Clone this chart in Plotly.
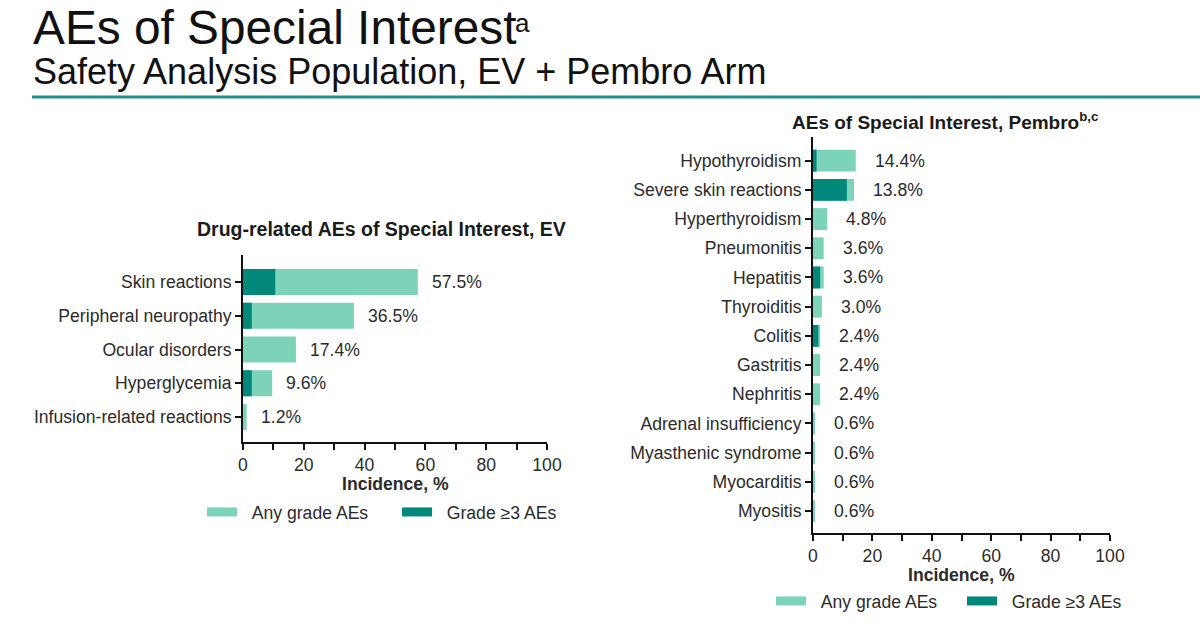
import plotly.graph_objects as go

W, H = 1200, 631

# ---------------- data ----------------
ev_categories = ["Skin reactions", "Peripheral neuropathy", "Ocular disorders",
                 "Hyperglycemia", "Infusion-related reactions"]
ev_any_grade = [57.5, 36.5, 17.4, 9.6, 1.2]
ev_grade3 = [10.6, 2.9, 0.0, 2.9, 0.0]

pem_categories = ["Hypothyroidism", "Severe skin reactions", "Hyperthyroidism",
                  "Pneumonitis", "Hepatitis", "Thyroiditis", "Colitis", "Gastritis",
                  "Nephritis", "Adrenal insufficiency", "Myasthenic syndrome",
                  "Myocarditis", "Myositis"]
pem_any_grade = [14.4, 13.8, 4.8, 3.6, 3.6, 3.0, 2.4, 2.4, 2.4, 0.6, 0.6, 0.6, 0.6]
pem_grade3 = [1.2, 11.4, 0.0, 0.0, 2.4, 0.0, 1.8, 0.0, 0.0, 0.0, 0.0, 0.0, 0.0]

x_tick_values = [0, 20, 40, 60, 80, 100]
series_names = ["Any grade AEs", "Grade \u22653 AEs"]
x_title = "Incidence, %"

# ---------------- style ----------------
LIGHT = "#7dd3b9"
DARK = "#00897b"
TEXT = "#2b2b2b"
AXIS = "#111111"
FONT = "Liberation Sans, Arial, sans-serif"
FS = 17.6


def fx(px):
    return px / W


def fy(py):
    return 1 - py / H


fig = go.Figure()

panels = [
    dict(cats=ev_categories, anyg=ev_any_grade, g3=ev_grade3, xa="x", ya="y",
         legend="legend", width=0.77, gap=12, xtitle_y=484),
    dict(cats=pem_categories, anyg=pem_any_grade, g3=pem_grade3, xa="x2", ya="y2",
         legend="legend2", width=0.75, gap=17, xtitle_y=575),
]

for p in panels:
    fig.add_trace(go.Bar(orientation="h", y=p["cats"], x=p["anyg"], name=series_names[0],
                         marker=dict(color=LIGHT, line=dict(width=0)), width=p["width"],
                         xaxis=p["xa"], yaxis=p["ya"], showlegend=False,
                         legendgroup=p["legend"] + "a"))
    fig.add_trace(go.Bar(orientation="h", y=p["cats"], x=p["g3"], name=series_names[1],
                         marker=dict(color=DARK, line=dict(width=0)), width=p["width"],
                         xaxis=p["xa"], yaxis=p["ya"], showlegend=False,
                         legendgroup=p["legend"] + "b"))
    # legend entries drawn as wide swatches
    for name, col, grp in [(series_names[0], LIGHT, "a"), (series_names[1], DARK, "b")]:
        fig.add_trace(go.Scatter(x=[None], y=[None], mode="lines",
                                 name="\u00a0\u00a0" + name,
                                 line=dict(color=col, width=9),
                                 xaxis=p["xa"], yaxis=p["ya"], legend=p["legend"],
                                 legendgroup=p["legend"] + grp))
    for c, v in zip(p["cats"], p["anyg"]):
        fig.add_annotation(x=v, y=c, xref=p["xa"], yref=p["ya"], text=f"{v:.1f}%",
                           showarrow=False, xanchor="left", xshift=p["gap"],
                           font=dict(size=FS, color=TEXT, family=FONT))
    # x-axis title
    fig.add_annotation(x=0.5, xref=p["xa"] + " domain", y=fy(p["xtitle_y"]), yref="paper",
                       xanchor="center", yanchor="middle", showarrow=False,
                       text=f"<b>{x_title}</b>",
                       font=dict(size=FS, color=TEXT, family=FONT))

axis_common = dict(showline=True, linecolor=AXIS, linewidth=2, showgrid=False,
                   zeroline=False, ticks="outside", ticklen=6, tickwidth=2,
                   tickcolor=AXIS, tickfont=dict(size=FS, color=TEXT, family=FONT))

fig.update_layout(
    width=W, height=H, margin=dict(l=0, r=0, t=0, b=0, autoexpand=False),
    paper_bgcolor="white", plot_bgcolor="white", barmode="overlay",
    font=dict(family=FONT, color=TEXT),
    xaxis=dict(domain=[fx(243), fx(547)], anchor="y", range=[0, 100],
               tickvals=x_tick_values,
               minor=dict(dtick=10, ticks="outside", ticklen=6, tickwidth=2, tickcolor=AXIS),
               **axis_common),
    yaxis=dict(domain=[fy(442), fy(255)], anchor="x", type="category",
               categoryarray=ev_categories, range=[4.74, -0.8], **axis_common),
    xaxis2=dict(domain=[fx(813), fx(1110)], anchor="y2", range=[0, 100],
                tickvals=x_tick_values,
                minor=dict(dtick=10, ticks="outside", ticklen=6, tickwidth=2, tickcolor=AXIS),
                **axis_common),
    yaxis2=dict(domain=[fy(533), fy(137)], anchor="x2", type="category",
                categoryarray=pem_categories, range=[12.75, -0.81], **axis_common),
    legend=dict(orientation="h", x=fx(202), y=fy(512), xanchor="left", yanchor="middle",
                font=dict(size=FS, color=TEXT, family=FONT), entrywidth=150,
                bgcolor="rgba(0,0,0,0)"),
    legend2=dict(orientation="h", x=fx(771), y=fy(601), xanchor="left", yanchor="middle",
                 font=dict(size=FS, color=TEXT, family=FONT), entrywidth=146,
                 bgcolor="rgba(0,0,0,0)"),
)

# titles
fig.add_annotation(x=fx(30.5), y=fy(28), xref="paper", yref="paper", xanchor="left",
                   yanchor="middle", showarrow=False,
                   text="AEs of Special Interest",
                   font=dict(size=47.8, color="#111111", family=FONT))
fig.add_annotation(x=fx(513), y=fy(23), xref="paper", yref="paper", xanchor="left",
                   yanchor="middle", showarrow=False, text="a",
                   font=dict(size=26, color="#111111", family=FONT))
fig.add_annotation(x=fx(30.5), y=fy(72), xref="paper", yref="paper", xanchor="left",
                   yanchor="middle", showarrow=False,
                   text="Safety Analysis Population, EV + Pembro Arm",
                   font=dict(size=36, color="#111111", family=FONT))
fig.add_shape(type="line", xref="paper", yref="paper", x0=fx(32), x1=1,
              y0=fy(97), y1=fy(97), line=dict(color="#23908c", width=3))

fig.add_annotation(x=fx(381), y=fy(229), xref="paper", yref="paper", xanchor="center",
                   yanchor="middle", showarrow=False,
                   text="<b>Drug-related AEs of Special Interest, EV</b>",
                   font=dict(size=19.5, color="#1a1a1a", family=FONT))
fig.add_annotation(x=fx(790), y=fy(121), xref="paper", yref="paper", xanchor="left",
                   yanchor="middle", showarrow=False,
                   text="<b>AEs of Special Interest, Pembro<sup>b,c</sup></b>",
                   font=dict(size=19, color="#1a1a1a", family=FONT))

fig.write_html("out.html",
               post_script="document.body.style.margin='0';"
                           "document.body.style.overflow='hidden';")
